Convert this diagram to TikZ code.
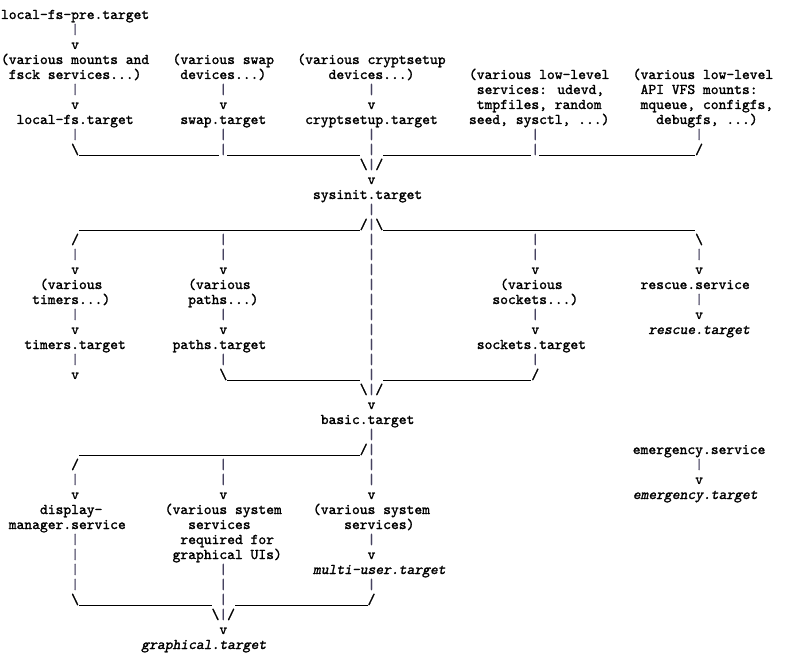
\documentclass[tikz,border=0pt]{standalone}
\font\ascf="[lmmono10-regular]:embolden=1.5" at 14.857pt
\font\asci="[lmmono10-regular]:slant=0.2;embolden=1.5" at 14.857pt
\font\ascr="[lmmono10-regular]:embolden=0.9" at 14.857pt
\definecolor{barcol}{RGB}{70,66,96}
\newcommand\B{\textbackslash}
\newcommand\vb{{\ascr\color{barcol}|}}
\tikzset{
  txt/.style={anchor=base west, inner sep=0pt, outer sep=0pt, font=\ascf, text=black},
  itx/.style={txt, font=\asci},
  bar/.style={line width=0.9pt, draw=black}
}
\newcommand\T[3]{\node[txt] (t#1x#2) at ({1pt+#2*7.8pt},{-19pt-#1*15pt}) {#3};}
\newcommand\I[3]{\node[itx] (t#1x#2) at ({1pt+#2*7.8pt},{-19pt-#1*15pt}) {#3};}
\newcommand\U[3]{%
  \coordinate (u#1x#2a) at ({1pt+#2*7.8pt},{-20.5pt-#1*15pt});
  \coordinate (u#1x#2b) at ({1pt+(#3+1)*7.8pt},{-20.5pt-#1*15pt});
  \draw[bar] (u#1x#2a) -- (u#1x#2b);}
\begin{document}
\begin{tikzpicture}[x=1pt,y=1pt]
\fill[white] (0,0) rectangle (793,-658);
\useasboundingbox (0,0) rectangle (793,-658);
% row 0-2
\T{0}{0}{local-fs-pre.target}
\T{1}{9}{\vb}
\T{2}{9}{v}
% row 3
\T{3}{0}{(various mounts and}
\T{3}{22}{(various swap}
\T{3}{38}{(various cryptsetup}
% row 4
\T{4}{1}{fsck services...)}
\T{4}{23}{devices...)}
\T{4}{42}{devices...)}
\T{4}{60}{(various low-level}
\T{4}{81}{(various low-level}
% row 5
\T{5}{9}{\vb}\T{5}{28}{\vb}\T{5}{47}{\vb}
\T{5}{61}{services: udevd,}
\T{5}{82}{API VFS mounts:}
% row 6
\T{6}{9}{v}\T{6}{28}{v}\T{6}{47}{v}
\T{6}{61}{tmpfiles, random}
\T{6}{82}{mqueue, configfs,}
% row 7
\T{7}{2}{local-fs.target}
\T{7}{23}{swap.target}
\T{7}{39}{cryptsetup.target}
\T{7}{60}{seed, sysctl, ...)}
\T{7}{84}{debugfs, ...)}
% row 8
\T{8}{9}{\vb}\T{8}{28}{\vb}\T{8}{47}{\vb}\T{8}{68}{\vb}\T{8}{89}{\vb}
% row 9
\T{9}{9}{\B}\U{9}{10}{27}\T{9}{28}{\vb}\U{9}{29}{45}\T{9}{47}{\vb}\U{9}{49}{67}\T{9}{68}{\vb}\U{9}{69}{88}\T{9}{89}{/}
% row 10-13
\T{10}{46}{\B\vb/}
\T{11}{47}{v}
\T{12}{40}{sysinit.target}
\T{13}{47}{\vb}
% row 14
\U{14}{10}{45}\T{14}{46}{/\vb\B}\U{14}{49}{88}
% row 15-16
\T{15}{9}{/}\T{15}{28}{\vb}\T{15}{47}{\vb}\T{15}{68}{\vb}\T{15}{89}{\B}
\T{16}{9}{\vb}\T{16}{28}{\vb}\T{16}{47}{\vb}\T{16}{68}{\vb}\T{16}{89}{\vb}
% row 17
\T{17}{9}{v}\T{17}{28}{v}\T{17}{47}{\vb}\T{17}{68}{v}\T{17}{89}{v}
% row 18
\T{18}{5}{(various}\T{18}{24}{(various}\T{18}{47}{\vb}\T{18}{64}{(various}\T{18}{82}{rescue.service}
% row 19
\T{19}{4}{timers...)}\T{19}{24}{paths...)}\T{19}{47}{\vb}\T{19}{63}{sockets...)}\T{19}{89}{\vb}
% row 20
\T{20}{9}{\vb}\T{20}{28}{\vb}\T{20}{47}{\vb}\T{20}{68}{\vb}\T{20}{89}{v}
% row 21
\T{21}{9}{v}\T{21}{28}{v}\T{21}{47}{\vb}\T{21}{68}{v}\I{21}{83}{rescue.target}
% row 22
\T{22}{3}{timers.target}\T{22}{22}{paths.target}\T{22}{47}{\vb}\T{22}{61}{sockets.target}
% row 23
\T{23}{9}{\vb}\T{23}{28}{\vb}\T{23}{47}{\vb}\T{23}{68}{\vb}
% row 24
\T{24}{9}{v}\T{24}{28}{\B}\U{24}{29}{45}\T{24}{47}{\vb}\U{24}{49}{67}\T{24}{68}{/}
% row 25-28
\T{25}{46}{\B\vb/}
\T{26}{47}{v}
\T{27}{41}{basic.target}
\T{28}{47}{\vb}
% row 29
\U{29}{10}{45}\T{29}{46}{/\vb}\T{29}{81}{emergency.service}
% row 30-32
\T{30}{9}{/}\T{30}{28}{\vb}\T{30}{47}{\vb}\T{30}{89}{\vb}
\T{31}{9}{\vb}\T{31}{28}{\vb}\T{31}{47}{\vb}\T{31}{89}{v}
\T{32}{9}{v}\T{32}{28}{v}\T{32}{47}{v}\I{32}{81}{emergency.target}
% row 33-38
\T{33}{5}{display-}\T{33}{21}{(various system}\T{33}{40}{(various system}
\T{34}{1}{manager.service}\T{34}{24}{services}\T{34}{44}{services)}
\T{35}{9}{\vb}\T{35}{23}{required for}\T{35}{47}{\vb}
\T{36}{9}{\vb}\T{36}{22}{graphical UIs)}\T{36}{47}{v}
\T{37}{9}{\vb}\T{37}{28}{\vb}\I{37}{40}{multi-user.target}
\T{38}{9}{\vb}\T{38}{28}{\vb}\T{38}{47}{\vb}
% row 39
\T{39}{9}{\B}\U{39}{10}{26}\T{39}{28}{\vb}\U{39}{30}{46}\T{39}{47}{/}
% row 40-42
\T{40}{27}{\B\vb/}
\T{41}{28}{v}
\I{42}{18}{graphical.target}
\end{tikzpicture}
\end{document}
